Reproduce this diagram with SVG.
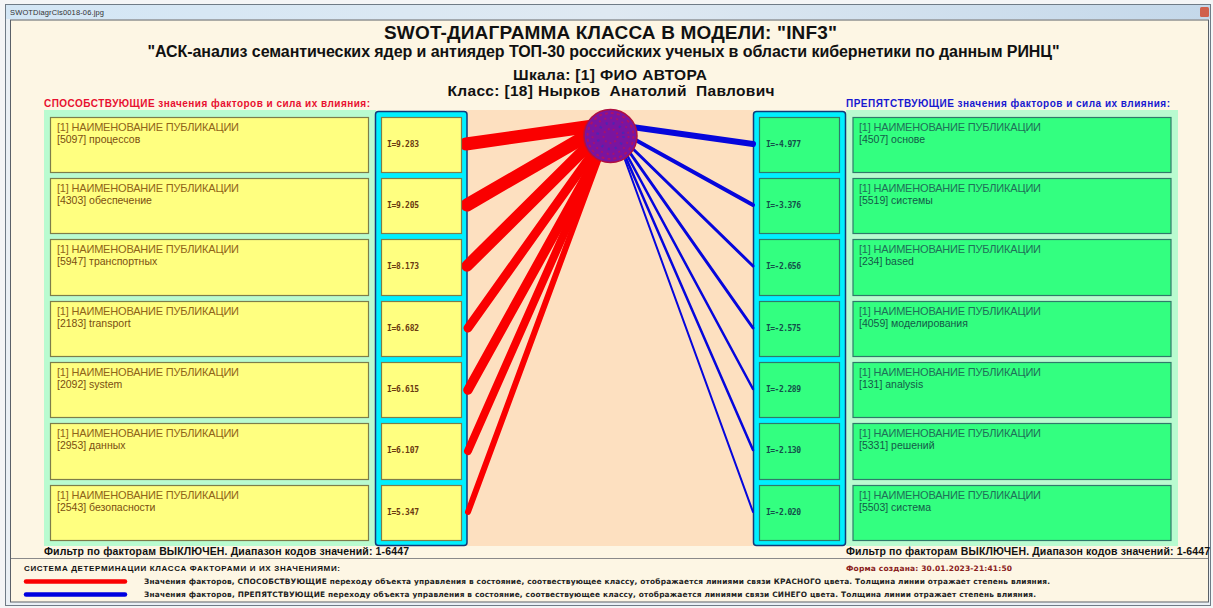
<svg xmlns="http://www.w3.org/2000/svg" width="1213" height="608" viewBox="0 0 1213 608">
<defs>
<linearGradient id="tb" x1="0" y1="0" x2="1" y2="0"><stop offset="0" stop-color="#d3e6f5"/><stop offset="0.5" stop-color="#dfe9f2"/><stop offset="1" stop-color="#c4d8ea"/></linearGradient>
</defs>
<style>
text{font-family:"Liberation Sans",Arial,sans-serif}
.t{font-weight:bold;fill:#111;text-anchor:middle}
.pos{fill:#ffff80;stroke:#7d7d4a;stroke-width:1.2}
.neg{fill:#33ff80;stroke:#2f7a6a;stroke-width:1.2}
.lt{font-size:11px;fill:#8f6418}
.lt2{font-size:10.500px;fill:#7a4e10}
.rt{font-size:11px;fill:#1f7058}
.rt2{font-size:10.500px;fill:#145a48}
.val{font-family:"DejaVu Sans Mono",monospace;font-size:8px;font-weight:bold}
.vp{fill:#6a3a10}
.vn{fill:#14504a}
.r{stroke:#fa0000;stroke-linecap:round;fill:none}
.b{stroke:#0606dc;stroke-linecap:round;fill:none}
.leg{font-family:"DejaVu Sans",sans-serif;font-size:7.400px;font-weight:bold;fill:#222}
.col{fill:#00f0ff;stroke:#123a78;stroke-width:1.5}
</style>
<rect width="1213" height="608" fill="#f4f5f6"/>
<rect x="5.500" y="4.500" width="1205" height="601" fill="#eaf0f5" stroke="#6f7b86"/>
<rect x="6" y="5" width="1204" height="14" fill="url(#tb)"/>
<text x="10" y="15" font-size="7.500" fill="#333" textLength="94">SWOTDiagrCls0018-06.jpg</text>
<rect x="1200" y="7" width="9" height="10" rx="1.500" fill="#d0604c"/>
<rect x="10.500" y="20" width="1198" height="582" fill="#fdf6e4" stroke="#5a6068"/>
<path d="M11 558.500H1208" stroke="#8a8a8a" stroke-width="1"/>

<g id="title">
<text class="t" x="610.500" y="39" font-size="19" textLength="453">SWOT-ДИАГРАММА КЛАССА В МОДЕЛИ: "INF3"</text>
<text class="t" x="603.500" y="57" font-size="16" textLength="912">"АСК-анализ семантических ядер и антиядер ТОП-30 российских ученых в области кибернетики по данным РИНЦ"</text>
<text class="t" x="610" y="80" font-size="15.500" textLength="194">Шкала: [1] ФИО АВТОРА</text>
<text class="t" x="611" y="96" font-size="15.500" textLength="327" xml:space="preserve">Класс: [18] Нырков  Анатолий  Павлович</text>
</g>
<text x="44" y="107" font-size="10" font-weight="bold" fill="#e81030" textLength="326">СПОСОБСТВУЮЩИЕ значения факторов и сила их влияния:</text>
<text x="846" y="107" font-size="10" font-weight="bold" fill="#1818d0" textLength="324">ПРЕПЯТСТВУЮЩИЕ значения факторов и сила их влияния:</text>

<rect id="panel-left" x="44" y="110" width="332" height="436" fill="#b9fbd0"/>
<rect id="panel-center" x="466" y="110" width="288" height="436" fill="#fde0c0"/>
<rect id="panel-right" x="846" y="110" width="332" height="436" fill="#b9fbd0"/>
<rect id="col-left" class="col" x="375.500" y="111.500" width="91.500" height="434" rx="3"/>
<rect id="col-right" class="col" x="753.500" y="111.500" width="92" height="434" rx="3"/>

<g id="connectors">
<line class="r" x1="600" y1="125" x2="466" y2="144" stroke-width="13"/>
<line class="r" x1="600" y1="128" x2="467" y2="205" stroke-width="13"/>
<line class="r" x1="600" y1="134" x2="467" y2="266" stroke-width="11.500"/>
<line class="r" x1="602" y1="140" x2="468" y2="328" stroke-width="9"/>
<line class="r" x1="601" y1="150" x2="468" y2="390" stroke-width="9.500"/>
<line class="r" x1="601" y1="150" x2="468" y2="451" stroke-width="8"/>
<line class="r" x1="602" y1="150" x2="468" y2="512" stroke-width="6"/>
<line class="b" x1="632" y1="127" x2="753" y2="144" stroke-width="6"/>
<line class="b" x1="632" y1="138" x2="753" y2="205" stroke-width="4"/>
<line class="b" x1="630" y1="146" x2="753" y2="266" stroke-width="3"/>
<line class="b" x1="628" y1="150" x2="753" y2="328" stroke-width="3"/>
<line class="b" x1="627" y1="155" x2="753" y2="389" stroke-width="2.500"/>
<line class="b" x1="626" y1="158" x2="753" y2="450" stroke-width="2.500"/>
<line class="b" x1="625" y1="160" x2="753" y2="512" stroke-width="2"/>
</g>
<g id="class-node">
<circle cx="610.500" cy="136" r="26.500" fill="#7a14a0" stroke="#b01040" stroke-width="1.500"/>
<circle cx="610.500" cy="136" r="23" fill="none" stroke="#c01050" stroke-width="2" stroke-dasharray="3 3" opacity=".7"/>
<circle cx="610.500" cy="136" r="18" fill="none" stroke="#c01050" stroke-width="2" stroke-dasharray="2 4" opacity=".6"/>
<circle cx="610.500" cy="136" r="13" fill="none" stroke="#3030c0" stroke-width="2.500" stroke-dasharray="2 5" opacity=".6"/>
<circle cx="610.500" cy="136" r="7" fill="none" stroke="#c01050" stroke-width="2" stroke-dasharray="2 3" opacity=".6"/>
</g>

<g id="f1"><rect class="pos" x="50.500" y="117.500" width="318" height="55"/><text class="lt" x="57" y="131" textLength="182">[1] НАИМЕНОВАНИЕ ПУБЛИКАЦИИ</text><text class="lt2" x="57" y="143">[5097] процессов</text></g>
<g id="f2"><rect class="pos" x="50.500" y="178.500" width="318" height="55"/><text class="lt" x="57" y="192" textLength="182">[1] НАИМЕНОВАНИЕ ПУБЛИКАЦИИ</text><text class="lt2" x="57" y="204">[4303] обеспечение</text></g>
<g id="f3"><rect class="pos" x="50.500" y="239.500" width="318" height="56"/><text class="lt" x="57" y="253" textLength="182">[1] НАИМЕНОВАНИЕ ПУБЛИКАЦИИ</text><text class="lt2" x="57" y="265">[5947] транспортных</text></g>
<g id="f4"><rect class="pos" x="50.500" y="301.500" width="318" height="55"/><text class="lt" x="57" y="315" textLength="182">[1] НАИМЕНОВАНИЕ ПУБЛИКАЦИИ</text><text class="lt2" x="57" y="327">[2183] transport</text></g>
<g id="f5"><rect class="pos" x="50.500" y="362.500" width="318" height="55"/><text class="lt" x="57" y="376" textLength="182">[1] НАИМЕНОВАНИЕ ПУБЛИКАЦИИ</text><text class="lt2" x="57" y="388">[2092] system</text></g>
<g id="f6"><rect class="pos" x="50.500" y="423.500" width="318" height="56"/><text class="lt" x="57" y="437" textLength="182">[1] НАИМЕНОВАНИЕ ПУБЛИКАЦИИ</text><text class="lt2" x="57" y="449">[2953] данных</text></g>
<g id="f7"><rect class="pos" x="50.500" y="485.500" width="318" height="55"/><text class="lt" x="57" y="499" textLength="182">[1] НАИМЕНОВАНИЕ ПУБЛИКАЦИИ</text><text class="lt2" x="57" y="511">[2543] безопасности</text></g>

<g id="v1"><rect class="pos" x="381.500" y="117.500" width="80" height="55"/><text class="val vp" x="387" y="147" textLength="32">I=9.283</text></g>
<g id="v2"><rect class="pos" x="381.500" y="178.500" width="80" height="55"/><text class="val vp" x="387" y="208" textLength="32">I=9.205</text></g>
<g id="v3"><rect class="pos" x="381.500" y="239.500" width="80" height="56"/><text class="val vp" x="387" y="269" textLength="32">I=8.173</text></g>
<g id="v4"><rect class="pos" x="381.500" y="301.500" width="80" height="55"/><text class="val vp" x="387" y="331" textLength="32">I=6.682</text></g>
<g id="v5"><rect class="pos" x="381.500" y="362.500" width="80" height="55"/><text class="val vp" x="387" y="392" textLength="32">I=6.615</text></g>
<g id="v6"><rect class="pos" x="381.500" y="423.500" width="80" height="56"/><text class="val vp" x="387" y="453" textLength="32">I=6.107</text></g>
<g id="v7"><rect class="pos" x="381.500" y="485.500" width="80" height="55"/><text class="val vp" x="387" y="515" textLength="32">I=5.347</text></g>

<g id="n-v1"><rect class="neg" x="759.500" y="117.500" width="80" height="55"/><text class="val vn" x="766" y="147" textLength="35">I=-4.977</text></g>
<g id="n-v2"><rect class="neg" x="759.500" y="178.500" width="80" height="55"/><text class="val vn" x="766" y="208" textLength="35">I=-3.376</text></g>
<g id="n-v3"><rect class="neg" x="759.500" y="239.500" width="80" height="56"/><text class="val vn" x="766" y="269" textLength="35">I=-2.656</text></g>
<g id="n-v4"><rect class="neg" x="759.500" y="301.500" width="80" height="55"/><text class="val vn" x="766" y="331" textLength="35">I=-2.575</text></g>
<g id="n-v5"><rect class="neg" x="759.500" y="362.500" width="80" height="55"/><text class="val vn" x="766" y="392" textLength="35">I=-2.289</text></g>
<g id="n-v6"><rect class="neg" x="759.500" y="423.500" width="80" height="56"/><text class="val vn" x="766" y="453" textLength="35">I=-2.130</text></g>
<g id="n-v7"><rect class="neg" x="759.500" y="485.500" width="80" height="55"/><text class="val vn" x="766" y="515" textLength="35">I=-2.020</text></g>

<g id="n1"><rect class="neg" x="853" y="117.500" width="318" height="55"/><text class="rt" x="859" y="131" textLength="182">[1] НАИМЕНОВАНИЕ ПУБЛИКАЦИИ</text><text class="rt2" x="859" y="143">[4507] основе</text></g>
<g id="n2"><rect class="neg" x="853" y="178.500" width="318" height="55"/><text class="rt" x="859" y="192" textLength="182">[1] НАИМЕНОВАНИЕ ПУБЛИКАЦИИ</text><text class="rt2" x="859" y="204">[5519] системы</text></g>
<g id="n3"><rect class="neg" x="853" y="239.500" width="318" height="56"/><text class="rt" x="859" y="253" textLength="182">[1] НАИМЕНОВАНИЕ ПУБЛИКАЦИИ</text><text class="rt2" x="859" y="265">[234] based</text></g>
<g id="n4"><rect class="neg" x="853" y="301.500" width="318" height="55"/><text class="rt" x="859" y="315" textLength="182">[1] НАИМЕНОВАНИЕ ПУБЛИКАЦИИ</text><text class="rt2" x="859" y="327">[4059] моделирования</text></g>
<g id="n5"><rect class="neg" x="853" y="362.500" width="318" height="55"/><text class="rt" x="859" y="376" textLength="182">[1] НАИМЕНОВАНИЕ ПУБЛИКАЦИИ</text><text class="rt2" x="859" y="388">[131] analysis</text></g>
<g id="n6"><rect class="neg" x="853" y="423.500" width="318" height="56"/><text class="rt" x="859" y="437" textLength="182">[1] НАИМЕНОВАНИЕ ПУБЛИКАЦИИ</text><text class="rt2" x="859" y="449">[5331] решений</text></g>
<g id="n7"><rect class="neg" x="853" y="485.500" width="318" height="55"/><text class="rt" x="859" y="499" textLength="182">[1] НАИМЕНОВАНИЕ ПУБЛИКАЦИИ</text><text class="rt2" x="859" y="511">[5503] система</text></g>

<text x="44" y="555" font-size="10.500" font-weight="bold" fill="#111" textLength="365">Фильтр по факторам ВЫКЛЮЧЕН. Диапазон кодов значений: 1-6447</text>
<text x="846" y="555" font-size="10.500" font-weight="bold" fill="#111" textLength="364">Фильтр по факторам ВЫКЛЮЧЕН. Диапазон кодов значений: 1-6447</text>

<g id="legend">
<text x="24" y="571" font-size="8" font-weight="bold" fill="#111" textLength="316">СИСТЕМА ДЕТЕРМИНАЦИИ КЛАССА ФАКТОРАМИ И ИХ ЗНАЧЕНИЯМИ:</text>
<text x="846" y="571" font-size="7.500" font-weight="bold" fill="#8a2020" textLength="166" style="font-family:'DejaVu Sans',sans-serif">Форма создана: 30.01.2023-21:41:50</text>
<line x1="26" y1="581.500" x2="125" y2="581.500" stroke="#fa0000" stroke-width="4.500" stroke-linecap="round"/>
<line x1="26" y1="594.500" x2="125" y2="594.500" stroke="#0000e0" stroke-width="4.500" stroke-linecap="round"/>
<text class="leg" x="144" y="584" textLength="906">Значения факторов, СПОСОБСТВУЮЩИЕ переходу объекта управления в состояние, соотвествующее классу, отображается линиями связи КРАСНОГО цвета. Толщина линии отражает степень влияния.</text>
<text class="leg" x="144" y="597" textLength="892">Значения факторов, ПРЕПЯТСТВУЮЩИЕ переходу объекта управления в состояние, соотвествующее классу, отображается линиями связи СИНЕГО цвета. Толщина линии отражает степень влияния.</text>
</g>
</svg>
